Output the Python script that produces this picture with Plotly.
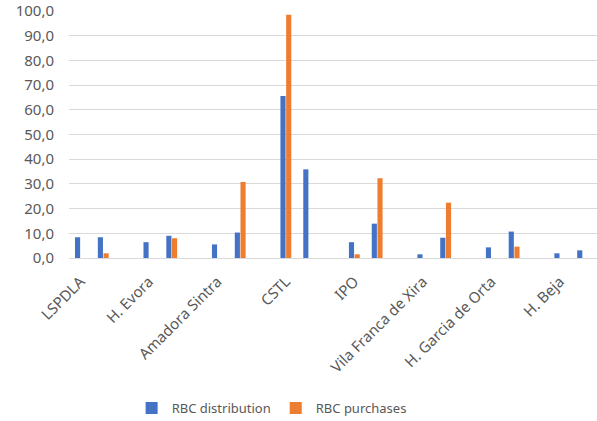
import plotly.graph_objects as go

# 24 category slots: 8 sites x (2 bars + empty spacer)
hospitals = ["LSPDLA", "H. Evora", "Amadora Sintra", "CSTL", "IPO",
             "Vila Franca de Xira", "H. Garcia de Orta", "H. Beja"]
rbc_distribution = [8.4, 8.4, None, 6.4, 9.0, None, 5.5, 10.3, None,
                    65.6, 35.9, None, 6.4, 13.9, None, 1.5, 8.2, None,
                    4.3, 10.7, None, 1.9, 3.1, None]
rbc_purchases = [0.0, 1.9, None, 0.0, 8.0, None, 0.0, 30.8, None,
                 98.5, 0.0, None, 1.5, 32.3, None, 0.0, 22.4, None,
                 0.0, 4.6, None, 0.0, 0.0, None]
slots = list(range(len(rbc_distribution)))
tick_positions = slots[::3]

fig = go.Figure()
fig.add_trace(go.Bar(x=slots, y=rbc_distribution, name="RBC distribution",
                     marker=dict(color="#4472C4", line=dict(width=0))))
fig.add_trace(go.Bar(x=slots, y=rbc_purchases, name="RBC purchases",
                     marker=dict(color="#ED7D31", line=dict(width=0))))

fig.update_layout(
    width=597, height=421,
    margin=dict(l=69, r=0, t=11, b=163),
    paper_bgcolor="white", plot_bgcolor="white",
    barmode="group", bargap=0.5, bargroupgap=0.1,
    separators=",.",
    font=dict(family="Noto Sans, Liberation Sans, sans-serif", size=13, color="#595959"),
    showlegend=True,
    legend=dict(orientation="h", x=0.455, xanchor="center", xref="container",
                yref="container", y=0.031, yanchor="middle",
                font=dict(size=13, color="#595959"),
                itemwidth=30, traceorder="normal"),
)
fig.update_xaxes(range=[-0.5, 22.63], tickmode="array", tickvals=tick_positions,
                 ticktext=hospitals, tickangle=-45, showgrid=False,
                 showline=True, linecolor="#d9d9d9", linewidth=1,
                 ticks="", ticklabelstandoff=8,
                 tickfont=dict(size=15, color="#595959"))
fig.update_yaxes(range=[0, 100], dtick=10, tickformat=".1f", showgrid=True,
                 gridcolor="#d9d9d9", gridwidth=1, zeroline=False,
                 showline=False, ticks="", ticklabelstandoff=14,
                 tickfont=dict(size=15, color="#595959"))

fig.write_html("out.html")
